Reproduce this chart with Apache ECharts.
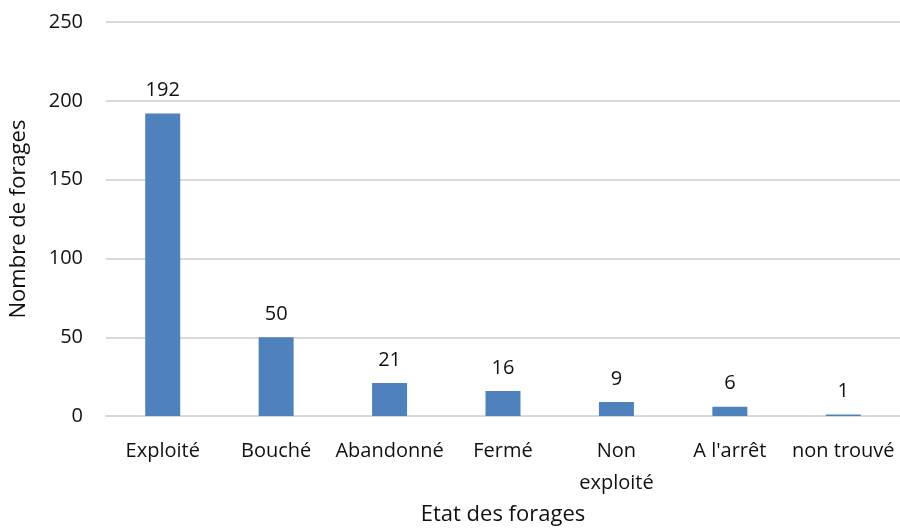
<!DOCTYPE html>
<html><head><meta charset="utf-8">
<script src="https://cdn.jsdelivr.net/npm/echarts@6/dist/echarts.min.js"></script>
<style>html,body{margin:0;padding:0;background:#fff}#c{width:900px;height:531px}</style>
</head><body><div id="c"></div>
<script>
const categories = ["Exploité", "Bouché", "Abandonné", "Fermé", "Non\nexploité", "A l'arrêt", "non trouvé"];
const values = [192, 50, 21, 16, 9, 6, 1];
const yTicks = { min: 0, max: 250, interval: 50 };
const xTitle = "Etat des forages";
const yTitle = "Nombre de forages";

const font = "Open Sans";
const chart = echarts.init(document.getElementById('c'), null, { renderer: 'canvas' });
chart.setOption({
  animation: false,
  backgroundColor: '#fff',
  grid: { left: 104, right: 0, top: 22, bottom: 109, containLabel: false },
  xAxis: {
    type: 'category', data: categories,
    axisLine: { lineStyle: { color: '#d9d9d9', width: 2 } },
    axisTick: { show: false },
    axisLabel: { color: '#111', fontFamily: font, fontSize: 20, margin: 19, lineHeight: 32, interval: 0 },
    name: xTitle, nameLocation: 'middle', nameGap: 86,
    nameTextStyle: { color: '#111', fontFamily: font, fontSize: 22 }
  },
  yAxis: {
    type: 'value', min: yTicks.min, max: yTicks.max, interval: yTicks.interval,
    splitLine: { lineStyle: { color: '#d9d9d9', width: 2 } },
    axisLine: { show: false }, axisTick: { show: false },
    axisLabel: { color: '#111', fontFamily: font, fontSize: 20, margin: 23 },
    name: yTitle, nameLocation: 'middle', nameGap: 76, nameRotate: 90,
    nameTextStyle: { color: '#111', fontFamily: font, fontSize: 22 }
  },
  series: [{
    type: 'bar', data: values, barWidth: 35,
    itemStyle: { color: '#4f81bd' },
    label: { show: true, position: 'top', distance: 13, color: '#111', fontFamily: font, fontSize: 20 }
  }]
});
</script></body></html>
